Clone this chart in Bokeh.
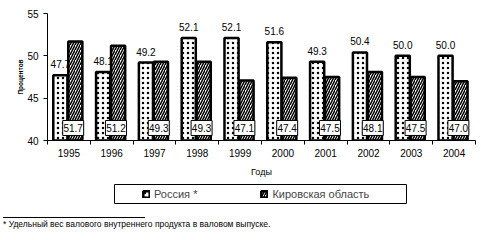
from bokeh.plotting import figure
from bokeh.layouts import column
from bokeh.models import (ColumnDataSource, LabelSet, Legend, LegendItem,
                          FixedTicker, BoxAnnotation, Range1d, Div)
from bokeh.core.properties import value
from bokeh.embed import file_html
from bokeh.resources import INLINE

years = ["1995", "1996", "1997", "1998", "1999", "2000", "2001", "2002", "2003", "2004"]
russia = [47.7, 48.1, 49.2, 52.1, 52.1, 51.6, 49.3, 50.4, 50.0, 50.0]
kirov = [51.7, 51.2, 49.3, 49.3, 47.1, 47.4, 47.5, 48.1, 47.5, 47.0]
y_ticks = [40, 45, 50, 55]
series_names = ["Россия *", "Кировская область"]
y_title = "Процентов"
x_title = "Годы"
footnote = "* Удельный вес валового внутреннего продукта в валовом выпуске."

FONT = "Liberation Sans"
n = len(years)
centers = [i + 0.5 for i in range(n)]
x_r = [c - 0.20 for c in centers]
x_k = [c + 0.15 for c in centers]
x_kb = [c + 0.10 for c in centers]

src = ColumnDataSource(dict(
    x_r=x_r, x_k=x_k, x_kb=x_kb, russia=russia, kirov=kirov,
    r_lab=[f"{v:.1f}" for v in russia],
    k_lab=[f"{v:.1f}" for v in kirov],
    base=[y_ticks[0]] * n,
    kbox=[y_ticks[0] + 1.48] * n,
))

RUS_STYLE = dict(fill_color="white", line_color="black", line_width=2.5,
                 hatch_pattern="dot", hatch_scale=5, hatch_weight=1, hatch_color="black")
KIR_STYLE = dict(fill_color="white", line_color="black", line_width=2.5,
                 hatch_pattern="/", hatch_scale=5, hatch_weight=1.5, hatch_color="black")

p = figure(width=481, height=180, x_range=Range1d(0, n),
           y_range=Range1d(y_ticks[0], y_ticks[-1]),
           output_backend="svg", toolbar_location=None,
           min_border_left=47, min_border_right=6,
           min_border_top=13, min_border_bottom=40)
p.outline_line_color = None
p.xgrid.visible = False
p.ygrid.visible = False

r1 = p.vbar(x="x_r", top="russia", bottom="base", width=0.33, source=src, **RUS_STYLE)
r2 = p.vbar(x="x_k", top="kirov", bottom="base", width=0.33, source=src, **KIR_STYLE)

# value labels
p.add_layout(LabelSet(x="x_r", y="russia", text="r_lab", source=src,
                      text_align="center", text_baseline="alphabetic", y_offset=7,
                      text_font=value(FONT), text_font_size="10px", text_color="black"))
p.rect(x="x_kb", y="kbox", width=21, height=15, width_units="screen",
       height_units="screen", source=src, fill_color="white", line_color="black",
       line_width=1)
p.add_layout(LabelSet(x="x_kb", y="kbox", text="k_lab", source=src,
                      text_align="center", text_baseline="middle",
                      text_font=value(FONT), text_font_size="10px", text_color="black"))

# x axis
xa = p.xaxis[0]
xa.ticker = FixedTicker(ticks=centers, minor_ticks=list(range(n + 1)))
xa.major_label_overrides = {c: y for c, y in zip(centers, years)}
xa.major_tick_out = 0
xa.major_tick_in = 0
xa.minor_tick_out = 4
xa.minor_tick_in = 0
xa.minor_tick_line_color = "black"
xa.axis_line_color = "black"
xa.major_label_standoff = 4
xa.major_label_text_font = FONT
xa.major_label_text_font_size = "10px"
xa.major_label_text_color = "black"
xa.axis_label = x_title
xa.axis_label_text_font = FONT
xa.axis_label_text_font_size = "9px"
xa.axis_label_text_font_style = "normal"
xa.axis_label_standoff = 7
xa.axis_label_text_color = "black"

# y axis
ya = p.yaxis[0]
ya.ticker = FixedTicker(ticks=y_ticks, minor_ticks=[])
ya.major_tick_out = 4
ya.major_tick_in = 0
ya.major_tick_line_color = "black"
ya.axis_line_color = "black"
ya.major_label_standoff = 5
ya.major_label_text_font = FONT
ya.major_label_text_font_size = "10px"
ya.major_label_text_color = "black"
ya.axis_label = y_title
ya.axis_label_text_font = FONT
ya.axis_label_text_font_size = "6.5px"
ya.axis_label_text_font_style = "bold"
ya.axis_label_standoff = 0
ya.axis_label_text_color = "black"

# legend panel (frame aligned with the chart frame; data units = canvas pixels)
q = figure(width=481, height=32, x_range=Range1d(47, 475), y_range=Range1d(0, 32),
           output_backend="svg", toolbar_location=None,
           min_border_left=47, min_border_right=6, min_border_top=0, min_border_bottom=0)
q.xaxis.visible = False
q.yaxis.visible = False
q.xgrid.visible = False
q.ygrid.visible = False
q.outline_line_color = None

# legend swatches (hidden renderers that only lend their style to the legend)
g1 = q.vbar(x="x_r", top="russia", bottom="base", width=0.33, source=src,
            visible=False, **RUS_STYLE)
g2 = q.vbar(x="x_k", top="kirov", bottom="base", width=0.33, source=src,
            visible=False, **KIR_STYLE)

q.add_layout(BoxAnnotation(left=114, right=406, bottom=9, top=28,
                           fill_alpha=0, line_color="black", line_width=1, line_alpha=1))
legend = Legend(items=[LegendItem(label=series_names[0], renderers=[g1]),
                       LegendItem(label=series_names[1], renderers=[g2])],
                orientation="horizontal", location=(95, 12),
                border_line_color=None, background_fill_alpha=0,
                padding=0, margin=0, spacing=63, glyph_width=8, glyph_height=8,
                label_standoff=4, label_text_font=FONT, label_text_font_size="11px",
                label_height=12)
q.add_layout(legend, "center")

note = Div(text=(
    '<div style="margin:5px 0 0 3px;width:142px;height:0;border-top:1px solid black;"></div>'
    '<div style="margin:2px 0 0 3px;font-family:\'Liberation Sans\';font-size:8.5px;'
    'line-height:9px;white-space:nowrap;color:black;">' + footnote + '</div>'),
    width=481, height=28, margin=0)

layout = column(p, q, note, spacing=0)
open("out.html", "w").write(file_html(layout, INLINE))
